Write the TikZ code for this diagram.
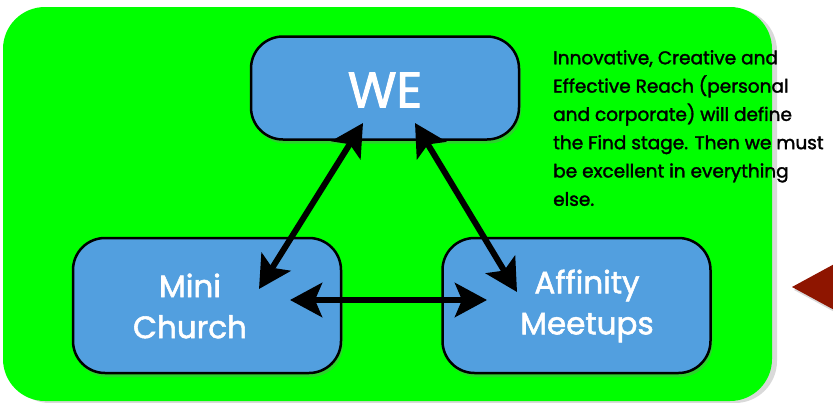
\documentclass[tikz,border=0pt]{standalone}
\usepackage{fontspec}
\setmainfont{Poppins}[FakeBold=1.8]
\usepackage{xcolor}
\usetikzlibrary{shadows,arrows.meta}
\definecolor{leafgreen}{RGB}{0,255,0}
\definecolor{boxblue}{RGB}{82,159,223}
\definecolor{markred}{RGB}{142,21,0}

\begin{document}
\begin{tikzpicture}[x=1pt,y=-1pt,
  stage/.style={draw=black, line width=2.5pt, fill=boxblue, rounded corners=32pt,
    minimum width=268pt, drop shadow={shadow xshift=2pt, shadow yshift=-4pt, opacity=0.35}},
  stagetext/.style={text=white, align=center, font=\fontsize{31}{41}\selectfont},
  link/.style={{Stealth[length=32pt,width=34pt,inset=7pt]}-{Stealth[length=32pt,width=34pt,inset=7pt]}, line width=6pt}]
\useasboundingbox (0,0) rectangle (833,402);

% background panel
\fill[leafgreen, rounded corners=42pt, drop shadow={shadow xshift=5pt, shadow yshift=-2pt, opacity=0.3}] (3,7) rectangle (772,401);

% stages
\node[stage, minimum height=103pt] (we) at (385,88) {};
\node[stagetext, font=\fontsize{50}{50}\selectfont] (we-label) at (385,90) {WE};
\node[stage, minimum height=135pt] (mc) at (207,305.5) {};
\node[stagetext] (mc-label) at (190,306) {Mini\\Church};
\node[stage, minimum height=135pt] (am) at (576.5,305.5) {};
\node[stagetext] (am-label) at (587,306) {Affinity\\Meetups};

% arrow ends
\coordinate (we-l) at (363,123);
\coordinate (we-r) at (415,123);
\coordinate (mc-t) at (259,289);
\coordinate (mc-r) at (290,300);
\coordinate (am-t) at (517,292);
\coordinate (am-l) at (487,300);

\draw[link] (we-l) -- (mc-t);
\draw[link] (we-r) -- (am-t);
\draw[link] (mc-r) -- (am-l);

% note
\node[anchor=north west, inner sep=0pt, align=left, font=\fontsize{18.5}{28.3}\selectfont] (note) at (553,50)
  {Innovative, Creative and\\Effective Reach (personal\\and corporate) will define\\the Find stage. Then we must\\be excellent in everything\\else.};

% pointer
\fill[markred, drop shadow={shadow xshift=2pt, shadow yshift=-3pt, opacity=0.3}] (792,287) -- (850,255.5) -- (850,318.5) -- cycle;
\end{tikzpicture}
\end{document}
